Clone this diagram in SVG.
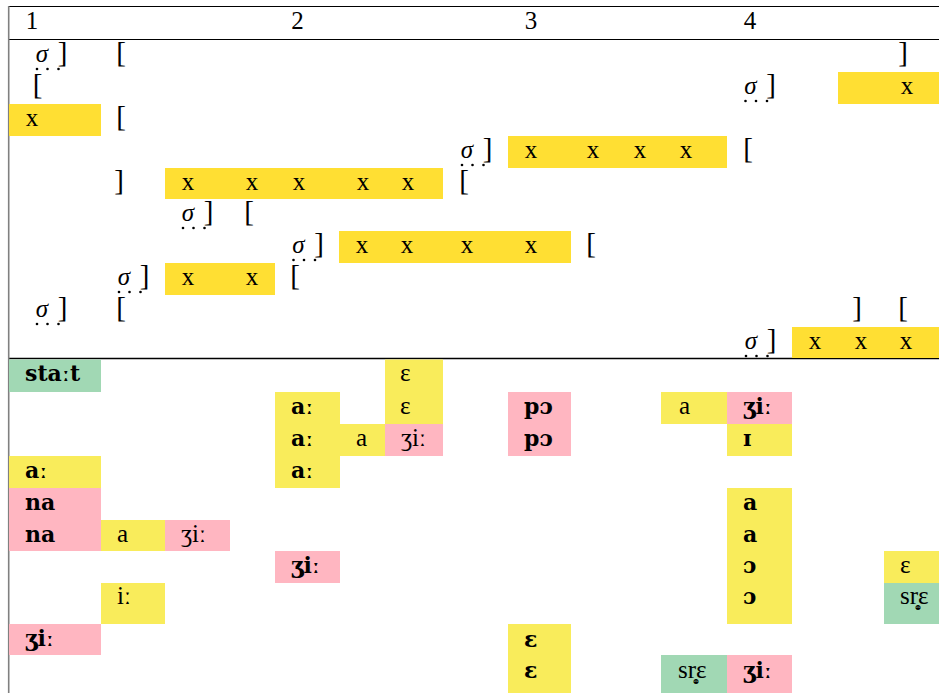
<svg xmlns="http://www.w3.org/2000/svg" width="939" height="693" viewBox="0 0 939 693">
<style>
.g{fill:#FFDF33}.y{fill:#F9EC5B}.p{fill:#FFB6C1}.gr{fill:#A1D8B4}
text{font-family:"Liberation Serif","DejaVu Serif",serif;font-size:25px;fill:#000}
.c{text-anchor:middle}
.b{font-family:"DejaVu Serif","Liberation Serif",serif;font-weight:bold;font-size:22px}
.s{font-style:italic}
.br{font-size:29px}
.dt{fill:#000}
.ln{stroke:#000;fill:none}
</style>
<defs>
<g id="dots"><circle class="dt" cx="-5" cy="0" r="1.3"/><circle class="dt" cx="5.5" cy="0" r="1.3"/><circle class="dt" cx="16.5" cy="0" r="1.3"/></g>
</defs>
<rect width="939" height="693" fill="#fff"/>
<g id="frame">
<line class="ln" x1="9" y1="6.5" x2="939" y2="6.5" stroke-width="1.2"/>
<line class="ln" x1="9" y1="39.5" x2="939" y2="39.5" stroke-width="1.2"/>
<line class="ln" x1="9" y1="358.5" x2="939" y2="358.5" stroke-width="1.6"/>
<line x1="8.7" y1="6" x2="8.7" y2="693" stroke="#808080" stroke-width="1.6"/>
</g>
<g id="header">
<text class="c" x="32" y="29">1</text>
<text class="c" x="297.5" y="29">2</text>
<text class="c" x="531" y="29">3</text>
<text class="c" x="750" y="29">4</text>
</g>
<g id="grid-top">
<g id="row1">
<text class="c s" x="42" y="62">σ</text><text class="c br" x="62.5" y="62">]</text><use href="#dots" x="42" y="69"/>
<text class="c br" x="121" y="62">[</text>
<text class="c br" x="903" y="62">]</text>
</g>
<g id="row2">
<text class="c br" x="37.5" y="94">[</text>
<text class="c s" x="750.5" y="94">σ</text><text class="c br" x="771" y="94">]</text><use href="#dots" x="750.5" y="101"/>
<rect class="g" x="838" y="72" width="101" height="32"/>
<text class="c" x="907" y="94">x</text>
</g>
<g id="row3">
<rect class="g" x="9" y="104" width="92" height="32"/>
<text class="c" x="32" y="126">x</text>
<text class="c br" x="121" y="126">[</text>
</g>
<g id="row4">
<text class="c s" x="467" y="158">σ</text><text class="c br" x="487.5" y="158">]</text><use href="#dots" x="467" y="165"/>
<rect class="g" x="508" y="136" width="219" height="32"/>
<text class="c" x="531" y="158">x</text><text class="c" x="593" y="158">x</text><text class="c" x="640" y="158">x</text><text class="c" x="686" y="158">x</text>
<text class="c br" x="748" y="158">[</text>
</g>
<g id="row5">
<text class="c br" x="119" y="190">]</text>
<rect class="g" x="165" y="168" width="278" height="31"/>
<text class="c" x="188" y="190">x</text><text class="c" x="252" y="190">x</text><text class="c" x="299" y="190">x</text><text class="c" x="363" y="190">x</text><text class="c" x="408" y="190">x</text>
<text class="c br" x="464" y="190">[</text>
</g>
<g id="row6">
<text class="c s" x="188" y="221">σ</text><text class="c br" x="208.5" y="221">]</text><use href="#dots" x="188" y="228"/>
<text class="c br" x="249" y="221">[</text>
</g>
<g id="row7">
<text class="c s" x="298.5" y="253">σ</text><text class="c br" x="319" y="253">]</text><use href="#dots" x="298.5" y="260"/>
<rect class="g" x="339" y="231" width="232" height="32"/>
<text class="c" x="362" y="253">x</text><text class="c" x="407" y="253">x</text><text class="c" x="467" y="253">x</text><text class="c" x="531" y="253">x</text>
<text class="c br" x="591" y="253">[</text>
</g>
<g id="row8">
<text class="c s" x="124" y="285">σ</text><text class="c br" x="144.5" y="285">]</text><use href="#dots" x="124" y="292"/>
<rect class="g" x="165" y="263" width="110" height="32"/>
<text class="c" x="188" y="285">x</text><text class="c" x="252" y="285">x</text>
<text class="c br" x="295" y="285">[</text>
</g>
<g id="row9">
<text class="c s" x="42" y="317">σ</text><text class="c br" x="62.5" y="317">]</text><use href="#dots" x="42" y="324"/>
<text class="c br" x="121" y="317">[</text>
<text class="c br" x="857" y="317">]</text>
<text class="c br" x="903" y="317">[</text>
</g>
<g id="row10">
<text class="c s" x="751" y="349">σ</text><text class="c br" x="771.5" y="349">]</text><use href="#dots" x="751" y="356"/>
<rect class="g" x="792" y="327" width="147" height="31"/>
<text class="c" x="815" y="349">x</text><text class="c" x="861" y="349">x</text><text class="c" x="906" y="349">x</text>
</g>
</g>
<g id="grid-bottom">
<g id="cells-bg">
<rect class="gr" x="9" y="359.5" width="92" height="32.5"/>
<rect class="y" x="385" y="359.5" width="58" height="64.5"/>
<rect class="y" x="275" y="392" width="65" height="96"/>
<rect class="p" x="508" y="392" width="63" height="64"/>
<rect class="y" x="661" y="392" width="66" height="32"/>
<rect class="p" x="727" y="392" width="65" height="32"/>
<rect class="y" x="340" y="424" width="45" height="32"/>
<rect class="p" x="385" y="424" width="58" height="32"/>
<rect class="y" x="727" y="424" width="65" height="32"/>
<rect class="y" x="9" y="456" width="92" height="32"/>
<rect class="p" x="9" y="488" width="92" height="63"/>
<rect class="y" x="727" y="488" width="65" height="136"/>
<rect class="y" x="101" y="520" width="64" height="31"/>
<rect class="p" x="165" y="520" width="65" height="31"/>
<rect class="p" x="275" y="551" width="65" height="32"/>
<rect class="y" x="884" y="551" width="55" height="32"/>
<rect class="y" x="101" y="583" width="64" height="41"/>
<rect class="gr" x="884" y="583" width="55" height="41"/>
<rect class="p" x="9" y="624" width="92" height="31"/>
<rect class="y" x="508" y="624" width="63" height="69"/>
<rect class="gr" x="661" y="655" width="66" height="38"/>
<rect class="p" x="727" y="655" width="65" height="38"/>
</g>
<g id="cells-text">
<text class="b" x="25" y="381">staːt</text>
<text x="400" y="381">ɛ</text>
<text class="b" x="291" y="414">aː</text>
<text x="400" y="414">ɛ</text>
<text class="b" x="524" y="414">pɔ</text>
<text x="679" y="414">a</text>
<text class="b" x="743" y="414">ʒiː</text>
<text class="b" x="291" y="446">aː</text>
<text x="356" y="446">a</text>
<text x="401" y="446">ʒiː</text>
<text class="b" x="524" y="446">pɔ</text>
<text class="b" x="743" y="446">ɪ</text>
<text class="b" x="25" y="478">aː</text>
<text class="b" x="291" y="478">aː</text>
<text class="b" x="25" y="510">na</text>
<text class="b" x="743" y="510">a</text>
<text class="b" x="25" y="542">na</text>
<text x="117" y="542">a</text>
<text x="181" y="542">ʒiː</text>
<text class="b" x="743" y="542">a</text>
<text class="b" x="291" y="573">ʒiː</text>
<text class="b" x="743" y="573">ɔ</text>
<text x="900" y="573">ɛ</text>
<text x="117" y="604">iː</text>
<text class="b" x="743" y="604">ɔ</text>
<text x="900" y="604">sr̥̝ɛ</text>
<text class="b" x="25" y="646">ʒiː</text>
<text class="b" x="524" y="647">ɛ</text>
<text class="b" x="524" y="678">ɛ</text>
<text x="678" y="678">sr̥̝ɛ</text>
<text class="b" x="743" y="678">ʒiː</text>
</g>
</g>
</svg>
